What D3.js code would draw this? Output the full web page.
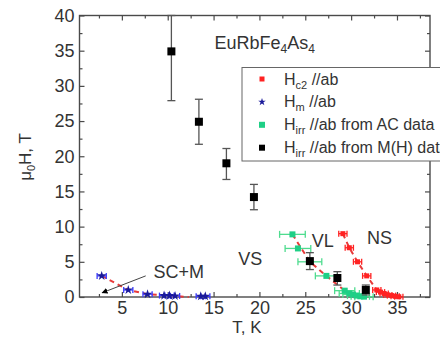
<!DOCTYPE html>
<html><head><meta charset="utf-8">
<script src="https://cdn.jsdelivr.net/npm/d3@7"></script>
<style>
html,body{margin:0;padding:0;background:#fff;overflow:hidden;}
text{font-family:"Liberation Sans",Arial,sans-serif;fill:#333;}
</style></head>
<body><svg id="c" width="440" height="337"></svg>
<script>
// ---- data ----
const xTicks = [5,10,15,20,25,30,35];
const yTicks = [0,5,10,15,20,25,30,35,40];

// Hc2 //ab (red)
const hc2T = [29.1, 29.8, 30.7, 31.7, 32.8, 33.2, 33.6, 34.0, 34.4, 34.8, 35.2];
const hc2H = [9.0, 7.0, 5.0, 3.0, 1.0, 0.7, 0.5, 0.3, 0.2, 0.1, 0.03];
const hc2Err = [0.45, 0.45, 0.45, 0.45, 0.45, 0.45, 0.45, 0.45, 0.45, 0.45, 0.45];

// Hm //ab (blue stars)
const hmT = [2.8, 5.7, 7.8, 9.6, 10.2, 10.8, 13.6, 14.1];
const hmH = [3.0, 1.0, 0.4, 0.2, 0.2, 0.15, 0.1, 0.1];
const hmErr = [0.5, 0.5, 0.5, 0.5, 0.5, 0.5, 0.5, 0.5];

// Hirr //ab from AC data (green)
const acT = [23.6, 24.2, 25.5, 27.3, 29.3, 29.8, 30.2, 30.6, 31.0, 31.4];
const acH = [8.9, 6.9, 5.0, 3.0, 0.9, 0.5, 0.35, 0.2, 0.1, 0.05];
const acErr = [1.4, 1.4, 1.3, 1.2, 1.1, 1.1, 1.1, 1.0, 1.0, 1.0];

// Hirr //ab from M(H) data (black)
const mhT = [10.4, 13.4, 16.4, 19.4, 25.5, 28.5, 31.6];
const mhH = [34.9, 24.9, 19.0, 14.2, 5.1, 2.7, 1.0];
const mhLo = [27.9, 21.7, 16.7, 12.4, 3.9, 1.7, 0.3];
const mhHi = [40.0, 28.1, 21.1, 16.0, 6.3, 3.6, 1.7];

// red dashed guide lines
const fitMT = [2.8, 5.7, 7.8, 12.3];
const fitMH = [3.0, 1.0, 0.4, 0.0];
const fitIrrT = [23.6, 25.5, 27.3, 29.3, 31.2];
const fitIrrH = [8.9, 5.0, 3.0, 0.9, 0.0];
const fitHc2T = [29.1, 29.8, 30.7, 31.7, 32.8, 35.3];
const fitHc2H = [9.0, 7.0, 5.0, 3.0, 1.0, 0.0];

// ---- drawing ----
const svg = d3.select("#c");
const L = 79.5, R = 430, T = 15.5, B = 297;
const x = d3.scaleLinear().domain([0.38, 38.6]).range([L, R]);
const y = d3.scaleLinear().domain([0, 40]).range([B, T]);

const RED = "#ff2222", BLUE = "#1a1a9a", BLUEE = "#3a3aff", GREEN = "#1fcf86", GREENE = "#4fdc8f", FRAME = "#4a4a4a";

// frame
svg.append("rect").attr("x", L).attr("y", T).attr("width", R - L).attr("height", B - T)
  .attr("fill", "none").attr("stroke", FRAME).attr("stroke-width", 1.4);

const xMinor = d3.range(2.5, 38.6, 2.5).filter(v => v % 5 !== 0);
const yMinor = d3.range(2.5, 40, 2.5).filter(v => v % 5 !== 0);

function styleAxis(g){ g.select(".domain").remove(); g.selectAll("line").attr("stroke", FRAME).attr("stroke-width", 1.2); }

svg.append("g").attr("transform", `translate(0,${B})`)
  .call(d3.axisBottom(x).tickValues(xTicks).tickSizeInner(-5).tickSizeOuter(0).tickPadding(4))
  .call(styleAxis)
  .selectAll("text").attr("font-size", 18).attr("fill", "#333").attr("font-family", "Liberation Sans, Arial");
svg.append("g").attr("transform", `translate(0,${B})`)
  .call(d3.axisBottom(x).tickValues(xMinor).tickSize(-3).tickFormat(""))
  .call(styleAxis);
svg.append("g").attr("transform", `translate(0,${T})`)
  .call(d3.axisTop(x).tickValues(xTicks).tickSize(-5).tickFormat("")).call(styleAxis);
svg.append("g").attr("transform", `translate(0,${T})`)
  .call(d3.axisTop(x).tickValues(xMinor).tickSize(-3).tickFormat("")).call(styleAxis);

svg.append("g").attr("transform", `translate(${L},0)`)
  .call(d3.axisLeft(y).tickValues(yTicks).tickSizeInner(-5).tickSizeOuter(0).tickPadding(5))
  .call(styleAxis)
  .selectAll("text").attr("font-size", 18).attr("fill", "#333").attr("font-family", "Liberation Sans, Arial");
svg.append("g").attr("transform", `translate(${L},0)`)
  .call(d3.axisLeft(y).tickValues(yMinor).tickSize(-3).tickFormat("")).call(styleAxis);
svg.append("g").attr("transform", `translate(${R},0)`)
  .call(d3.axisRight(y).tickValues(yTicks).tickSize(-5).tickFormat("")).call(styleAxis);
svg.append("g").attr("transform", `translate(${R},0)`)
  .call(d3.axisRight(y).tickValues(yMinor).tickSize(-3).tickFormat("")).call(styleAxis);

// axis titles
svg.append("text").attr("x", 247).attr("y", 333).attr("text-anchor", "middle").attr("font-size", 17).text("T, K");
const yl = svg.append("text").attr("transform", "translate(31,157) rotate(-90)").attr("text-anchor", "middle").attr("font-size", 17);
yl.append("tspan").text("μ");
yl.append("tspan").attr("font-size", 11).attr("dy", 4).text("0");
yl.append("tspan").attr("dy", -4).text("H, T");

// dashed guide lines
const line = d3.line().x(d => x(d[0])).y(d => y(d[1]));
[[fitMT, fitMH], [fitIrrT, fitIrrH], [fitHc2T, fitHc2H]].forEach(([ts, hs]) => {
  svg.append("path").datum(ts.map((t, i) => [t, hs[i]])).attr("d", line)
    .attr("fill", "none").attr("stroke", "#e83a3a").attr("stroke-width", 2).attr("stroke-dasharray", "5,4");
});

// horizontal error bars helper
function hErr(ts, hs, es, color, cap){
  const g = svg.append("g").attr("stroke", color).attr("stroke-width", 1.3);
  ts.forEach((t, i) => {
    const yy = y(hs[i]);
    g.append("line").attr("x1", x(t - es[i])).attr("x2", x(t + es[i])).attr("y1", yy).attr("y2", yy);
    g.append("line").attr("x1", x(t - es[i])).attr("x2", x(t - es[i])).attr("y1", yy - cap).attr("y2", yy + cap);
    g.append("line").attr("x1", x(t + es[i])).attr("x2", x(t + es[i])).attr("y1", yy - cap).attr("y2", yy + cap);
  });
}

// Hm (blue)
hErr(hmT, hmH, hmErr, BLUEE, 3);
svg.append("g").selectAll("path").data(hmT).join("path")
  .attr("transform", (d, i) => `translate(${x(d)},${y(hmH[i])})`)
  .attr("d", d3.symbol(d3.symbolStar, 28)).attr("fill", BLUE);

// Hc2 (red)
hErr(hc2T, hc2H, hc2Err, RED, 3);
svg.append("g").selectAll("rect").data(hc2T).join("rect")
  .attr("x", d => x(d) - 2.5).attr("y", (d, i) => y(hc2H[i]) - 2.5).attr("width", 5).attr("height", 5).attr("fill", RED);

// AC (green)
hErr(acT, acH, acErr, GREENE, 3.5);
svg.append("g").selectAll("rect").data(acT).join("rect")
  .attr("x", d => x(d) - 3).attr("y", (d, i) => y(acH[i]) - 3).attr("width", 6).attr("height", 6).attr("fill", GREEN);

// M(H) (black) with vertical error bars
const gb = svg.append("g").attr("stroke", "#555").attr("stroke-width", 1.3);
mhT.forEach((t, i) => {
  const xx = x(t);
  gb.append("line").attr("x1", xx).attr("x2", xx).attr("y1", y(mhLo[i])).attr("y2", y(mhHi[i]));
  [mhLo[i], mhHi[i]].forEach(v => gb.append("line").attr("x1", xx - 4).attr("x2", xx + 4).attr("y1", y(v)).attr("y2", y(v)));
});
svg.append("g").selectAll("rect").data(mhT).join("rect")
  .attr("x", d => x(d) - 4).attr("y", (d, i) => y(mhH[i]) - 4).attr("width", 8).attr("height", 8).attr("fill", "#000");

// annotation arrow SC+M
svg.append("defs").append("marker").attr("id", "ah").attr("viewBox", "0 0 10 10").attr("refX", 9).attr("refY", 5)
  .attr("markerWidth", 6).attr("markerHeight", 6).attr("orient", "auto")
  .append("path").attr("d", "M0,0 L10,5 L0,10 z").attr("fill", "#000");
svg.append("line").attr("x1", x(7.6)).attr("y1", y(3.0)).attr("x2", x(2.85)).attr("y2", y(0.6))
  .attr("stroke", "#444").attr("stroke-width", 1).attr("marker-end", "url(#ah)");

// region labels
function lab(t, h, s, anchor){ return svg.append("text").attr("x", x(t)).attr("y", y(h)).attr("text-anchor", anchor || "middle").attr("font-size", 18).text(s); }
lab(8.45, 2.7, "SC+M", "start");
lab(19.0, 4.6, "VS");
lab(26.9, 7.1, "VL");
lab(33.1, 7.5, "NS");
const ttl = svg.append("text").attr("x", x(15.1)).attr("y", y(35.2)).attr("font-size", 18);
ttl.append("tspan").text("EuRbFe");
ttl.append("tspan").attr("font-size", 12).attr("dy", 4).text("4");
ttl.append("tspan").attr("dy", -4).text("As");
ttl.append("tspan").attr("font-size", 12).attr("dy", 4).text("4");

// legend
svg.append("rect").attr("x", 242).attr("y", 67.5).attr("width", 230).attr("height", 93.5)
  .attr("fill", "#fff").attr("stroke", "#666").attr("stroke-width", 1);
const legItems = [
  {main: "H", sub: "c2", rest: " //ab", kind: "sq", color: RED, size: 5},
  {main: "H", sub: "m", rest: " //ab", kind: "star", color: BLUE},
  {main: "H", sub: "irr", rest: " //ab from AC data", kind: "sq", color: GREEN, size: 6},
  {main: "H", sub: "irr", rest: " //ab from M(H) data", kind: "sq", color: "#000", size: 6}
];
legItems.forEach((d, i) => {
  const cy = 79 + i * 22.9;
  if (d.kind === "sq") svg.append("rect").attr("x", 262 - d.size / 2).attr("y", cy - d.size / 2).attr("width", d.size).attr("height", d.size).attr("fill", d.color);
  else svg.append("path").attr("transform", `translate(262,${cy})`).attr("d", d3.symbol(d3.symbolStar, 18)).attr("fill", d.color);
  const t = svg.append("text").attr("x", 284).attr("y", cy + 5.5).attr("font-size", 16);
  t.append("tspan").text(d.main);
  t.append("tspan").attr("font-size", 11).attr("dy", 4).text(d.sub);
  t.append("tspan").attr("dy", -4).text(d.rest);
});
</script></body></html>
